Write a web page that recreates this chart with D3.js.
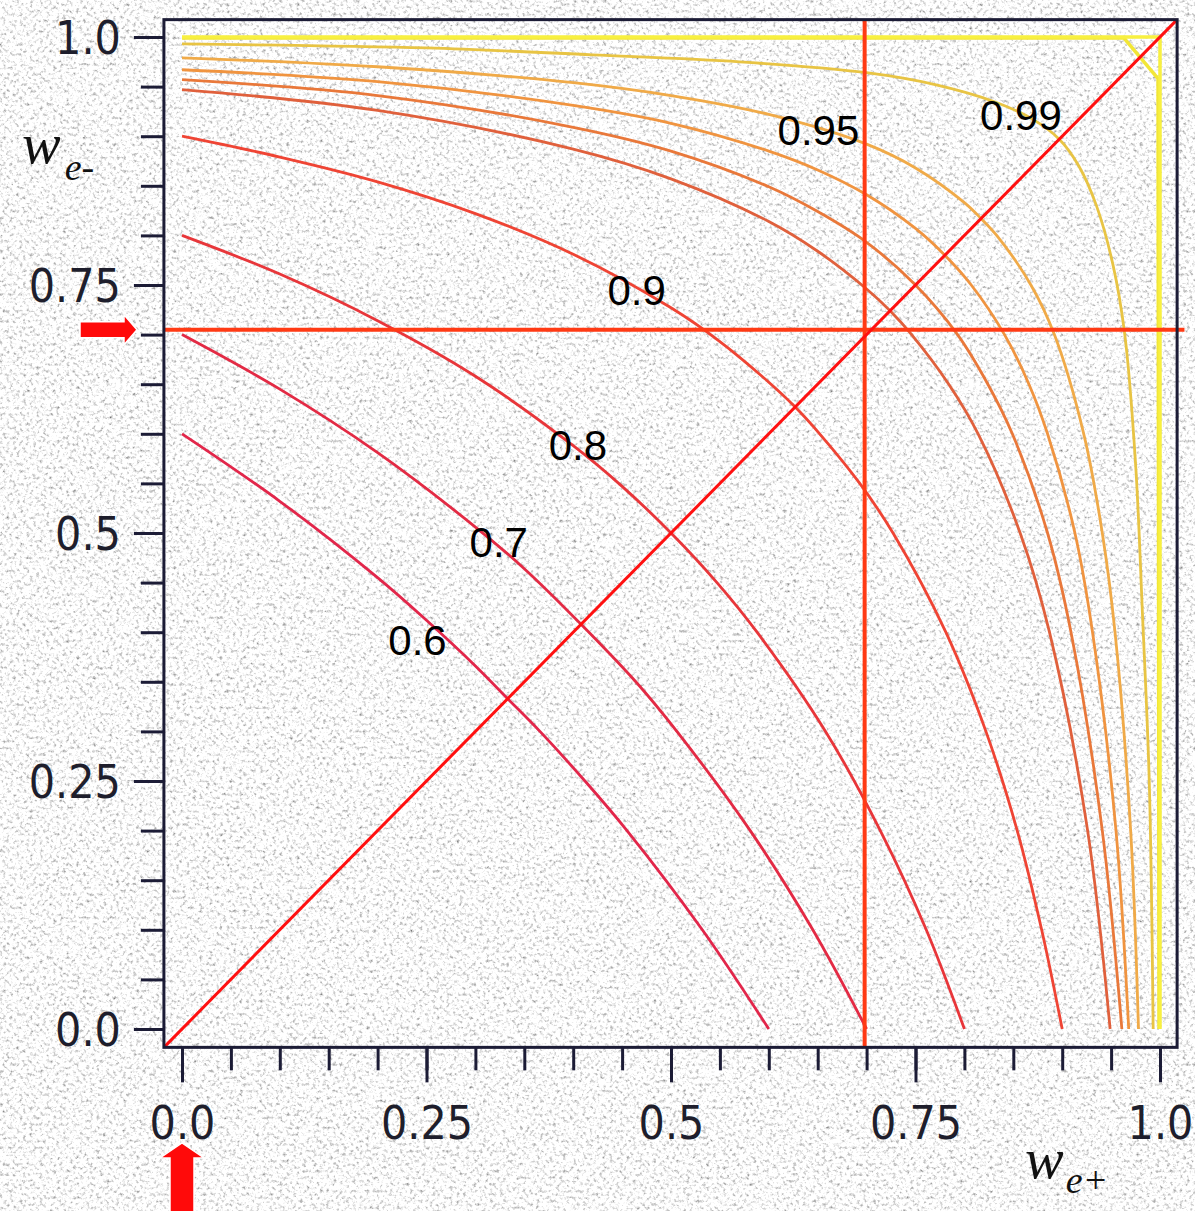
<!DOCTYPE html>
<html>
<head>
<meta charset="utf-8">
<script src="https://cdn.jsdelivr.net/npm/d3@7"></script>
<style>
  html, body { margin: 0; padding: 0; background: #e6e6e6; }
  svg { display: block; }
  .tick text { font-family: "DejaVu Sans Condensed", "DejaVu Sans", sans-serif; font-stretch: condensed; font-size: 46px; fill: #1e1e2c; }
  .tick line { stroke: #1c1c36; stroke-width: 3; }
  .contour-label { font-family: "Liberation Sans", Arial, sans-serif; font-size: 42px; fill: #000; }
  .axis-title { font-family: "Liberation Serif", "Times New Roman", serif; font-style: italic; fill: #111; }
</style>
</head>
<body>
<div id="chart"></div>
<script>
const width = 1195, height = 1211;

// Konturlinien als Punkte (w_e+, w_e-)
const curve060 = [[0,0.6],[0.1,0.532],[0.2,0.455],[0.25,0.412],[0.3,0.366],[0.333,0.333],[0.366,0.3],[0.412,0.25],[0.455,0.2],[0.532,0.1],[0.6,0]];
const curve070 = [[0,0.7],[0.1,0.645],[0.2,0.581],[0.3,0.506],[0.35,0.464],[0.408,0.408],[0.464,0.35],[0.506,0.3],[0.581,0.2],[0.645,0.1],[0.7,0]];
const curve080 = [[0,0.8],[0.1,0.761],[0.2,0.714],[0.3,0.658],[0.4,0.588],[0.45,0.547],[0.5,0.5],[0.547,0.45],[0.588,0.4],[0.658,0.3],[0.714,0.2],[0.761,0.1],[0.8,0]];
const curve090 = [[0,0.9],[0.1,0.879],[0.2,0.854],[0.3,0.822],[0.4,0.781],[0.5,0.727],[0.55,0.693],[0.6,0.652],[0.627,0.627],[0.652,0.6],[0.693,0.55],[0.727,0.5],[0.781,0.4],[0.822,0.3],[0.854,0.2],[0.879,0.1],[0.9,0]];
const curve095 = [[0,0.947],[0.2,0.926],[0.4,0.887],[0.5,0.857],[0.6,0.814],[0.65,0.784],[0.7,0.746],[0.724,0.724],[0.746,0.7],[0.784,0.65],[0.814,0.6],[0.857,0.5],[0.887,0.4],[0.926,0.2],[0.949,0]];
const curve096 = [[0,0.957],[0.2,0.941],[0.4,0.909],[0.5,0.885],[0.6,0.849],[0.65,0.824],[0.7,0.793],[0.75,0.75],[0.793,0.7],[0.824,0.65],[0.849,0.6],[0.885,0.5],[0.909,0.4],[0.941,0.2],[0.961,0]];
const curve097 = [[0,0.967],[0.2,0.955],[0.4,0.931],[0.5,0.913],[0.6,0.885],[0.65,0.866],[0.7,0.841],[0.75,0.807],[0.78,0.78],[0.807,0.75],[0.841,0.7],[0.866,0.65],[0.885,0.6],[0.913,0.5],[0.931,0.4],[0.955,0.2],[0.968,0]];
const curve098 = [[0,0.979],[0.2,0.97],[0.4,0.954],[0.5,0.941],[0.6,0.922],[0.7,0.892],[0.75,0.868],[0.8,0.833],[0.817,0.817],[0.833,0.8],[0.868,0.75],[0.892,0.7],[0.922,0.6],[0.941,0.5],[0.954,0.4],[0.97,0.2],[0.978,0]];
const curve099 = [[0,0.993],[0.25,0.989],[0.42,0.982],[0.57,0.975],[0.7,0.964],[0.77,0.952],[0.83,0.935],[0.87,0.917],[0.897,0.897],[0.917,0.87],[0.935,0.83],[0.952,0.77],[0.964,0.7],[0.975,0.57],[0.982,0.42],[0.989,0.25],[0.993,0]];
const curve0999 = [[0,0.999],[0.963,0.999],[0.998,0.958],[0.999,0]];
const curve100 = [[0,1.0],[1.0,1.0],[1.0,0]];

const contourSeries = [curve060, curve070, curve080, curve090, curve095, curve096, curve097, curve098, curve099, curve0999, curve100];
const contourLevels = ["0.6", "0.7", "0.8", "0.9", "0.95", "0.96", "0.97", "0.98", "0.99", "0.999", "1.0"];

// Beschriftungen der Konturen (Text, Ankerpunkt in Datenkoordinaten)
const labelTexts = ["0.99", "0.95", "0.9", "0.8", "0.7", "0.6"];
const labelX = [0.816, 0.609, 0.435, 0.375, 0.294, 0.211];
const labelY = [0.906, 0.891, 0.730, 0.574, 0.476, 0.377];

// Achsen
const minorTicks = [0,0.05,0.1,0.15,0.2,0.25,0.3,0.35,0.4,0.45,0.5,0.55,0.6,0.65,0.7,0.75,0.8,0.85,0.9,0.95,1.0];
const majorTicks = [0, 0.25, 0.5, 0.75, 1.0];
const majorTickLabels = ["0.0", "0.25", "0.5", "0.75", "1.0"];

// Markierte Werte (rote Linien)
const markX = 0.698;
const markY = 0.705;

const colorScale = d3.scaleOrdinal()
  .domain(contourLevels)
  .range(["#e2264a", "#e32a44", "#e8363a", "#ef4434", "#e0603c", "#e9783a", "#f09440", "#f0aa48", "#e8c444", "#f2e636", "#f8f040"]);

const xScale = d3.scaleLinear().domain([0, 1]).range([182, 1160]);
const yScale = d3.scaleLinear().domain([0, 1]).range([1029, 37]);
const frameLo = -0.0185, frameHi = 1.0175;

const svg = d3.select("#chart")
  .append("svg")
  .attr("width", width)
  .attr("height", height)
  .attr("viewBox", [0, 0, width, height]);

// Granit-Hintergrund
const defs = svg.append("defs");
const filter = defs.append("filter").attr("id", "granite")
  .attr("x", 0).attr("y", 0).attr("width", "100%").attr("height", "100%");
filter.append("feTurbulence")
  .attr("type", "fractalNoise")
  .attr("baseFrequency", 0.3)
  .attr("numOctaves", 3)
  .attr("seed", 7);
filter.append("feColorMatrix")
  .attr("type", "matrix")
  .attr("values", "1.8 0 0 0 0.1  1.8 0 0 0 0.1  1.8 0 0 0 0.1  0 0 0 0 1");

svg.append("rect")
  .attr("width", width)
  .attr("height", height)
  .attr("filter", "url(#granite)");

const x0 = xScale(frameLo), x1 = xScale(frameHi);
const y0 = yScale(frameLo), y1 = yScale(frameHi);

// Konturen
const lineGen = d3.line()
  .x(d => xScale(d[0]))
  .y(d => yScale(d[1]))
  .curve(d3.curveCatmullRom.alpha(0.5));
const lineStraight = d3.line()
  .x(d => xScale(d[0]))
  .y(d => yScale(d[1]));

svg.append("g")
  .attr("class", "contours")
  .selectAll("path")
  .data(contourSeries)
  .join("path")
  .attr("d", (d, i) => i >= 9 ? lineStraight(d) : lineGen(d))
  .attr("fill", "none")
  .attr("stroke", (d, i) => colorScale(contourLevels[i]))
  .attr("stroke-width", (d, i) => i >= 9 ? 3.5 : 2.8)
  .attr("stroke-linejoin", "round");

// Rote Hilfslinien
svg.append("line")
  .attr("x1", xScale(markX)).attr("x2", xScale(markX))
  .attr("y1", y0).attr("y2", y1)
  .attr("stroke", "#ff3a14").attr("stroke-width", 4);
svg.append("line")
  .attr("x1", x0).attr("x2", xScale(1.025))
  .attr("y1", yScale(markY)).attr("y2", yScale(markY))
  .attr("stroke", "#ff3a14").attr("stroke-width", 4);
svg.append("line")
  .attr("x1", x0).attr("y1", y0)
  .attr("x2", x1).attr("y2", y1)
  .attr("stroke", "#ff1010").attr("stroke-width", 3);

// Rahmen
svg.append("rect")
  .attr("x", x0).attr("y", y1)
  .attr("width", x1 - x0).attr("height", y0 - y1)
  .attr("fill", "none")
  .attr("stroke", "#1c1c36")
  .attr("stroke-width", 3);

// Y-Achse: kleine und große Striche
svg.append("g")
  .attr("transform", `translate(${x0}, 0)`)
  .call(d3.axisLeft(yScale).tickValues(minorTicks).tickSize(23).tickSizeOuter(0).tickFormat(""))
  .call(g => g.select(".domain").remove());
svg.append("g")
  .attr("transform", `translate(${x0}, 0)`)
  .call(d3.axisLeft(yScale).tickValues(majorTicks).tickSize(30).tickSizeOuter(0).tickPadding(13)
    .tickFormat((d, i) => majorTickLabels[i]))
  .call(g => g.select(".domain").remove())
  .call(g => g.selectAll("text").attr("dy", "0.36em"));

// X-Achse
svg.append("g")
  .attr("transform", `translate(0, ${y0})`)
  .call(d3.axisBottom(xScale).tickValues(minorTicks).tickSize(23).tickSizeOuter(0).tickFormat(""))
  .call(g => g.select(".domain").remove());
svg.append("g")
  .attr("transform", `translate(0, ${y0})`)
  .call(d3.axisBottom(xScale).tickValues(majorTicks).tickSize(35).tickSizeOuter(0)
    .tickFormat((d, i) => majorTickLabels[i]))
  .call(g => g.select(".domain").remove())
  .call(g => g.selectAll("text").attr("y", 92).attr("dy", 0));

// Kontur-Beschriftungen
svg.append("g")
  .selectAll("text")
  .data(labelTexts)
  .join("text")
  .attr("class", "contour-label")
  .attr("x", (d, i) => xScale(labelX[i]))
  .attr("y", (d, i) => yScale(labelY[i]))
  .text(d => d);

// Achsentitel
const yTitle = svg.append("text")
  .attr("class", "axis-title")
  .attr("x", 22).attr("y", 163);
yTitle.append("tspan").attr("font-size", 58).text("w");
yTitle.append("tspan").attr("font-size", 38).attr("dx", 4).attr("dy", 17).text("e-");

const xTitle = svg.append("text")
  .attr("class", "axis-title")
  .attr("x", 1025).attr("y", 1178);
xTitle.append("tspan").attr("font-size", 58).text("w");
xTitle.append("tspan").attr("font-size", 38).attr("dx", 2).attr("dy", 15).text("e+");

// Rote Pfeile
const ay = yScale(markY);
const leftArrow = [[80, ay - 8], [124, ay - 8], [124, ay - 15], [137, ay], [124, ay + 15], [124, ay + 8], [80, ay + 8]];
const ax = xScale(0);
const bottomArrow = [[ax, 1143], [ax + 22, 1158], [ax + 12, 1158], [ax + 12, 1215], [ax - 12, 1215], [ax - 12, 1158], [ax - 22, 1158]];
svg.append("g")
  .selectAll("path")
  .data([leftArrow, bottomArrow])
  .join("path")
  .attr("d", d => d3.line()(d) + "Z")
  .attr("fill", "#ff0a0a")
  .attr("stroke", "#ffffff")
  .attr("stroke-width", 1.5);
</script>
</body>
</html>
